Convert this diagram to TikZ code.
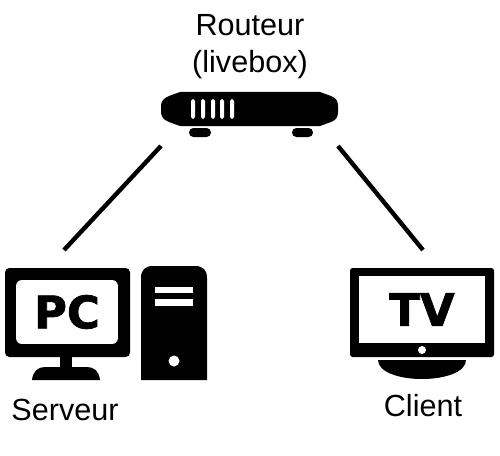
\documentclass[tikz,border=0pt]{standalone}
\usepackage{fontspec}
\setmainfont{Liberation Sans}
\newfontfamily\iconfont{DejaVu Sans}[BoldFeatures={FakeBold=1.6}]
\usepackage{tikz}
\usetikzlibrary{positioning}

\begin{document}
\begin{tikzpicture}[
    x=0.02cm, y=-0.02cm,
    every node/.style = {inner sep=0pt, outer sep=0pt},
    lbl/.style     = {font=\fontsize{17.4}{21}\selectfont, align=center},
    screenbox/.style = {fill=white, rounded corners=3.4pt, align=center,
                     font=\iconfont\bfseries\fontsize{25.5}{25.5}\selectfont},
    slit/.style    = {fill=white},
    blackfill/.style = {fill=black},
    link/.style    = {line width=2.5pt},
]
\useasboundingbox (0,0) rectangle (500,456);

% Router
\node[lbl] (routerlbl) at (250,47) {Routeur\\(livebox)};
\fill[blackfill] (161,110) -- (161,106) .. controls (161,101) and (164,98) .. (169,96) -- (180,92) -- (320,92)
    -- (331,96) .. controls (336,98) and (338,101) .. (338,106) -- (338,112)
    .. controls (338,117) and (336,120) .. (331,122) -- (320,126) -- (180,126) -- (169,122)
    .. controls (164,120) and (161,117) .. (161,112) -- cycle;
\fill[blackfill, rounded corners=2.5pt] (189,128) rectangle (211,137);
\fill[blackfill, rounded corners=2.5pt] (292,128) rectangle (313,137);
\foreach \x in {193,203,213,222,232}{
  \fill[slit, rounded corners=1.1pt] (\x-2,99) rectangle (\x+2,119);
}

% PC monitor
\fill[blackfill, rounded corners=2.5pt] (5,268) rectangle (130,357);
\fill[blackfill] (60,355) rectangle (72,369);
\fill[blackfill] (32,380) .. controls (33,371) and (38,367) .. (45,367) -- (87,367)
    .. controls (94,367) and (99,371) .. (100,380) -- cycle;
\node[screenbox, minimum width=2.04cm, minimum height=1.28cm] (pc) at (67,312) {PC};

% Tower
\fill[blackfill] (141,380) -- (141,278) .. controls (141,270) and (145,266) .. (153,266) -- (195,266)
    .. controls (203,266) and (207,270) .. (207,278) -- (207,380) -- cycle;
\fill[slit] (155,287) rectangle (193,293);
\fill[slit] (155,299) rectangle (193,306);
\fill[slit] (174,361) circle (5.5);

% TV
\fill[blackfill, rounded corners=1.5pt] (350,268) rectangle (494,357);
\node[screenbox, rounded corners=0pt, minimum width=2.52cm, minimum height=1.34cm] (tv) at (422,309.5) {TV};
\fill[slit] (422,350) circle (4);
\fill[blackfill] (378,360) -- (466,360) .. controls (466,372) and (445,379) .. (422,379)
    .. controls (399,379) and (378,372) .. (378,360) -- cycle;

% Labels
\node[lbl] (serveur) at (65,410) {Serveur};
\node[lbl] (client) at (423,406) {Client};

% Links
\coordinate (routerL) at (161,146);
\coordinate (routerR) at (338,146);
\coordinate (pctop) at (64,250);
\coordinate (tvtop) at (423,250);
\draw[link] (routerL) -- (pctop);
\draw[link] (routerR) -- (tvtop);

\end{tikzpicture}
\end{document}
